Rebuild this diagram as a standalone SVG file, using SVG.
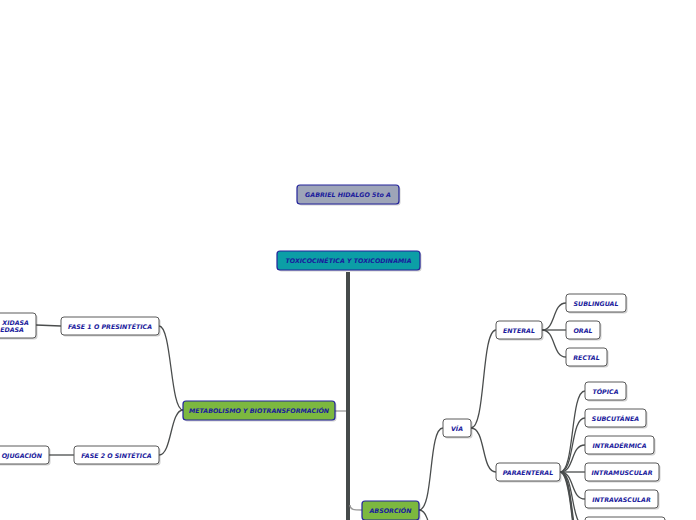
<svg xmlns="http://www.w3.org/2000/svg" width="696" height="520" viewBox="0 0 696 520">
<defs>
<style>
.t{font-family:"DejaVu Sans","Verdana",sans-serif;font-weight:bold;font-style:italic;font-size:6.3px;fill:#1a1a9c;text-anchor:middle;dominant-baseline:central}
.w{fill:#ffffff;stroke:#5a5a5a;stroke-width:1}
.m{stroke:#23239a;stroke-width:1.2}
.sh{fill:#000;opacity:0.18}
.c{fill:none;stroke:#4a4d4d;stroke-width:1.3}
.cl{fill:none;stroke:#9a9a9a;stroke-width:1.3}
</style>
</defs>
<rect width="696" height="520" fill="#ffffff"/>
<g id="connectors">
<line x1="348" y1="272" x2="348" y2="522" stroke="#454a4a" stroke-width="4"/>
<path class="cl" d="M346,411 L335,411"/>
<path class="cl" d="M350,505 C350,510 354,510 362,510"/>
<path class="c" d="M183,410 C170,410 172,326 159,326"/>
<path class="c" d="M183,410 C170,410 172,455 159,455"/>
<path class="c" d="M61,326 L36,325"/>
<path class="c" d="M74,455 L49,455"/>
<path class="c" d="M419,510 C434,510 428,428 443,428"/>
<path class="c" d="M419,510 C434,510 428,560 443,570"/>
<path class="c" d="M471,428 C486,428 481,330 496,330"/>
<path class="c" d="M471,428 C486,428 481,472 496,472"/>
<path class="c" d="M542,330 C556,330 552,303 566,303"/>
<path class="c" d="M542,330 L566,330"/>
<path class="c" d="M542,330 C556,330 552,357 566,357"/>
<path class="c" d="M560,472 C575,472 570,391 585,391"/>
<path class="c" d="M560,472 C575,472 570,418 585,418"/>
<path class="c" d="M560,472 C575,472 570,445 585,445"/>
<path class="c" d="M560,472 L585,472"/>
<path class="c" d="M560,472 C575,472 570,499 585,499"/>
<path class="c" d="M560,472 C575,472 570,526 585,526"/>
<path class="c" d="M560,472 C575,472 570,553 585,553"/>
<path class="c" d="M560,472 C575,472 572,580 587,580"/>
<path class="c" d="M560,472 C575,472 574,607 589,607"/>
</g>
<g id="n-gabriel">
<rect class="sh" x="298.5" y="186.5" width="102" height="19" rx="3"/>
<rect class="m" x="297" y="185" width="102" height="19" rx="3" fill="#9ea5b8"/>
<text class="t" x="348" y="194.5">GABRIEL HIDALGO  5to A</text>
</g>
<g id="n-toxico">
<rect class="sh" x="278.5" y="252.5" width="143" height="19" rx="3"/>
<rect class="m" x="277" y="251" width="143" height="19" rx="3" fill="#0c9ea6"/>
<text class="t" x="348.5" y="260.5">TOXICOCINÉTICA Y TOXICODINAMIA</text>
</g>
<g id="n-metab">
<rect class="sh" x="184.5" y="402.5" width="152" height="19" rx="3"/>
<rect class="m" x="183" y="401" width="152" height="19" rx="3" fill="#7cb83f"/>
<text class="t" x="259" y="410.5">METABOLISMO Y BIOTRANSFORMACIÓN</text>
</g>
<g id="n-absorcion">
<rect class="sh" x="363.5" y="502.5" width="57" height="19" rx="3"/>
<rect class="m" x="362" y="501" width="57" height="19" rx="3" fill="#7cb83f"/>
<text class="t" x="390.5" y="510.5">ABSORCIÓN</text>
</g>
<g id="n-fase1">
<rect class="sh" x="62.5" y="318.5" width="98" height="18" rx="3"/>
<rect class="w" x="61" y="317" width="98" height="18" rx="3"/>
<text class="t" x="110" y="326">FASE 1 O PRESINTÉTICA</text>
</g>
<g id="n-fase2">
<rect class="sh" x="75.5" y="447.5" width="85" height="18" rx="3"/>
<rect class="w" x="74" y="446" width="85" height="18" rx="3"/>
<text class="t" x="116.5" y="455">FASE 2 O SINTÉTICA</text>
</g>
<g id="n-oxidasa">
<rect class="sh" x="-18.5" y="314.5" width="56" height="25" rx="3"/>
<rect class="w" x="-20" y="313" width="56" height="25" rx="3"/>
<text class="t" x="29" y="322" style="text-anchor:end">XIDASA</text>
<text class="t" x="24" y="329.5" style="text-anchor:end">EDASA</text>
</g>
<g id="n-conjugacion">
<rect class="sh" x="-28.5" y="447.5" width="79" height="18" rx="3"/>
<rect class="w" x="-30" y="446" width="79" height="18" rx="3"/>
<text class="t" x="42" y="455" style="text-anchor:end">OJUGACIÓN</text>
</g>
<g id="n-via">
<rect class="sh" x="444.5" y="420.5" width="28" height="18" rx="3"/>
<rect class="w" x="443" y="419" width="28" height="18" rx="3"/>
<text class="t" x="457" y="428">VÍA</text>
</g>
<g id="n-enteral">
<rect class="sh" x="497.5" y="322.5" width="46" height="18" rx="3"/>
<rect class="w" x="496" y="321" width="46" height="18" rx="3"/>
<text class="t" x="519" y="330">ENTERAL</text>
</g>
<g id="n-paraenteral">
<rect class="sh" x="497.5" y="464.5" width="64" height="18" rx="3"/>
<rect class="w" x="496" y="463" width="64" height="18" rx="3"/>
<text class="t" x="528" y="472">PARAENTERAL</text>
</g>
<g id="n-sublingual">
<rect class="sh" x="567.5" y="295.5" width="60" height="18" rx="3"/>
<rect class="w" x="566" y="294" width="60" height="18" rx="3"/>
<text class="t" x="596" y="303">SUBLINGUAL</text>
</g>
<g id="n-oral">
<rect class="sh" x="567.5" y="322.5" width="34" height="18" rx="3"/>
<rect class="w" x="566" y="321" width="34" height="18" rx="3"/>
<text class="t" x="583" y="330">ORAL</text>
</g>
<g id="n-rectal">
<rect class="sh" x="567.5" y="349.5" width="41" height="18" rx="3"/>
<rect class="w" x="566" y="348" width="41" height="18" rx="3"/>
<text class="t" x="586.5" y="357">RECTAL</text>
</g>
<g id="n-topica">
<rect class="sh" x="586.5" y="383.5" width="41" height="18" rx="3"/>
<rect class="w" x="585" y="382" width="41" height="18" rx="3"/>
<text class="t" x="605.5" y="391">TÓPICA</text>
</g>
<g id="n-subcutanea">
<rect class="sh" x="586.5" y="410.5" width="61" height="18" rx="3"/>
<rect class="w" x="585" y="409" width="61" height="18" rx="3"/>
<text class="t" x="615.5" y="418">SUBCUTÁNEA</text>
</g>
<g id="n-intradermica">
<rect class="sh" x="586.5" y="437.5" width="69" height="18" rx="3"/>
<rect class="w" x="585" y="436" width="69" height="18" rx="3"/>
<text class="t" x="619.5" y="445">INTRADÉRMICA</text>
</g>
<g id="n-intramuscular">
<rect class="sh" x="586.5" y="464.5" width="74" height="18" rx="3"/>
<rect class="w" x="585" y="463" width="74" height="18" rx="3"/>
<text class="t" x="622" y="472">INTRAMUSCULAR</text>
</g>
<g id="n-intravascular">
<rect class="sh" x="586.5" y="491.5" width="73" height="18" rx="3"/>
<rect class="w" x="585" y="490" width="73" height="18" rx="3"/>
<text class="t" x="621.5" y="499">INTRAVASCULAR</text>
</g>
<g id="n-next">
<rect class="sh" x="586.5" y="518.5" width="80" height="18" rx="3"/>
<rect class="w" x="585" y="517" width="80" height="18" rx="3"/>
</g>
</svg>
